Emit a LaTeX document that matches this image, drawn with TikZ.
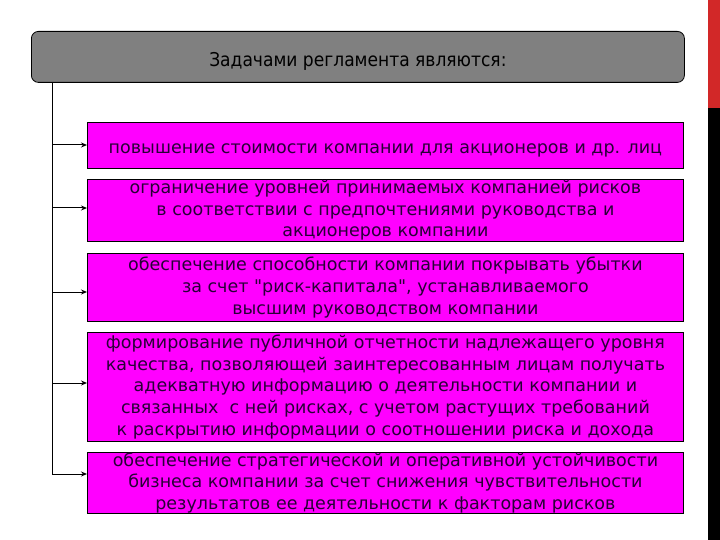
\documentclass[tikz,border=0pt]{standalone}
\usepackage{fontspec}
\setmainfont{DejaVu Sans}[Ligatures=TeXOff]
\newfontfamily\headfont{DejaVu Sans Condensed}
\definecolor{mag}{RGB}{255,0,255}
\definecolor{hdr}{RGB}{128,128,128}
\definecolor{txt}{RGB}{40,0,55}
\definecolor{redbar}{RGB}{210,40,40}
\usetikzlibrary{arrows.meta}
\begin{document}
\begin{tikzpicture}[x=1pt,y=-1pt,
  taskbox/.style={draw=black, line width=0.8pt, fill=mag, minimum width=596pt, anchor=north west,
    text=txt, align=center, font=\fontsize{17.5}{21.7}\selectfont, inner sep=0pt},
  conn/.style={draw=black, line width=1pt},
  arr/.style={conn, -{Stealth[length=6pt,width=5pt]}}]
\useasboundingbox (0,0) rectangle (720,540);
\fill[white] (0,0) rectangle (720,540);
\fill[redbar] (708,0) rectangle (720,108);
\fill[black] (708,108) rectangle (720,540);
\node[draw=black, line width=0.8pt, fill=hdr, rounded corners=7pt, anchor=north west,
  minimum width=653pt, minimum height=51pt, inner sep=0pt, text=black,
  font=\headfont\fontsize{19}{22}\selectfont] (head) at (31,31) {\raisebox{-10pt}[0pt][0pt]{Задачами регламента являются:}};
\node[taskbox, minimum height=46pt] (b1) at (87,122) {\raisebox{-8pt}[0pt][0pt]{повышение стоимости компании для акционеров и др. лиц}};
\node[taskbox, minimum height=62pt] (b2) at (87,179) {ограничение уровней принимаемых компанией рисков\\в соответствии с предпочтениями руководства и\\акционеров компании};
\node[taskbox, minimum height=68pt] (b3) at (87,253) {обеспечение способности компании покрывать убытки\\за счет "риск-капитала", устанавливаемого\\высшим руководством компании};
\node[taskbox, minimum height=109pt] (b4) at (87,332) {формирование публичной отчетности надлежащего уровня\\качества, позволяющей заинтересованным лицам получать\\адекватную информацию о деятельности компании и\\связанных \ с ней рисках, с учетом растущих требований\\к раскрытию информации о соотношении риска и дохода};
\node[taskbox, minimum height=61pt] (b5) at (87,452) {обеспечение стратегической и оперативной устойчивости\\бизнеса компании за счет снижения чувствительности\\результатов ее деятельности к факторам рисков};
\coordinate (top) at (52,82);
\coordinate (bot) at (52,474);
\draw[conn] (top) -- (bot);
\foreach \b/\y in {b1/145, b2/208, b3/292, b4/383, b5/474}{
  \draw[arr] (52,\y) -- (\b.west |- 0,\y);
}
\end{tikzpicture}
\end{document}
